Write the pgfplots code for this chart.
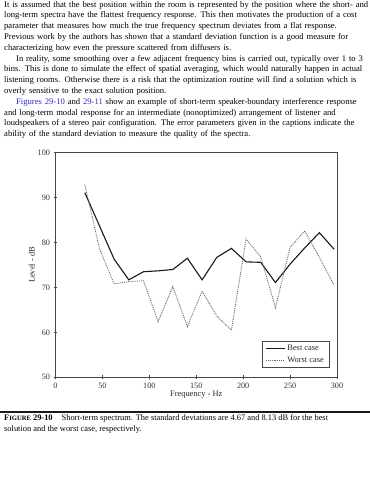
\documentclass[border=0pt]{standalone}
\usepackage{fontspec}
\setmainfont{Liberation Serif}
\usepackage{pgfplots}
\usepackage{pgfplotstable}
\pgfplotsset{compat=1.18}
\definecolor{linkblue}{RGB}{45,45,200}
\definecolor{framegray}{RGB}{70,70,70}

\pgfplotstableread{
f v
31.25 91.1
46.9 83.7
62.5 76.3
78.1 71.7
93.75 73.5
109.4 73.7
125 74.0
140.6 76.5
156.25 71.7
171.9 76.7
187.5 78.7
203.1 75.7
218.75 75.6
234.4 71.1
250 75.2
265.6 78.8
281.25 82.2
296.9 78.5
}\best

\pgfplotstableread{
f v
31.25 92.9
46.9 78.6
62.5 70.8
78.1 71.3
93.75 71.5
109.4 62.4
125 70.2
140.6 61.3
156.25 69.2
171.9 63.6
187.5 60.5
203.1 80.8
218.75 76.8
234.4 65.5
250 78.9
265.6 82.6
281.25 76.7
296.9 70.5
}\worst

\begin{document}
\begin{tikzpicture}
\useasboundingbox (0pt,0pt) rectangle (370pt,-480pt);
\fill[white] (0pt,0pt) rectangle (370pt,-480pt);

\node[anchor=north west, inner sep=0pt, text width=364pt, align=left,
      font=\fontsize{8.6}{10.8}\selectfont] at (4pt,-1pt) {%
It is assumed that the best position within the room is represented by the position where the short- and\\
long-term spectra have the flattest frequency response. This then motivates the production of a cost\\
parameter that measures how much the true frequency spectrum deviates from a flat response.\\
Previous work by the authors has shown that a standard deviation function is a good measure for\\
characterizing how even the pressure scattered from diffusers is.\\
\hspace*{12pt}In reality, some smoothing over a few adjacent frequency bins is carried out, typically over 1 to 3\\
bins. This is done to simulate the effect of spatial averaging, which would naturally happen in actual\\
listening rooms. Otherwise there is a risk that the optimization routine will find a solution which is\\
overly sensitive to the exact solution position.\\
\hspace*{12pt}{\color{linkblue}Figures 29-10} and {\color{linkblue}29-11} show an example of short-term speaker-boundary interference response\\
and long-term modal response for an intermediate (nonoptimized) arrangement of listener and\\
loudspeakers of a stereo pair configuration. The error parameters given in the captions indicate the\\
ability of the standard deviation to measure the quality of the spectra.};

\begin{axis}[
  at={(55.5pt,-377.3pt)}, anchor=south west,
  scale only axis, width=281.5pt, height=224.6pt,
  xmin=0, xmax=300, ymin=50, ymax=100,
  xtick={0,50,...,300}, ytick={50,60,...,100},
  tick align=center, major tick length=4pt,
  xtick pos=bottom, ytick pos=left,
  axis line style={draw=framegray, line width=0.8pt},
  tick style={draw=framegray, line width=0.6pt},
  /pgf/number format/assume math mode=true,
  ticklabel style={font=\fontsize{8.2}{10}\selectfont, text=black!80},
  xlabel={Frequency - Hz}, ylabel={Level - dB},
  label style={font=\fontsize{8.4}{10}\selectfont, text=black!85},
  xlabel style={yshift=4pt},
  ylabel style={yshift=-4pt},
  legend style={at={(0.972,0.041)}, anchor=south east, draw=framegray,
    line width=0.6pt, font=\fontsize{8.4}{10}\selectfont, inner xsep=3pt, inner ysep=2pt,
    row sep=0.5pt, text=black!85},
  legend cell align=left,
  legend image code/.code={\draw[#1] (0pt,0pt) -- (19pt,0pt);},
  legend image post style={line width=0.9pt},
]
\addplot[black!90, line width=1.1pt] table[x=f,y=v] {\best};
\addlegendentry{Best case}
\addplot[black!60, line width=0.9pt, densely dotted] table[x=f,y=v] {\worst};
\addlegendentry{Worst case}
\end{axis}

\draw[line width=1.6pt, black!90] (0pt,-412pt) -- (370pt,-412pt);
\node[anchor=north west, inner sep=0pt, align=left,
      font=\fontsize{8.4}{10.8}\selectfont] at (4pt,-414.5pt) {%
\textbf{F{\fontsize{6.6}{8}\selectfont IGURE} 29-10}\hspace{9pt}Short-term spectrum. The standard deviations are 4.67 and 8.13 dB for the best\\
solution and the worst case, respectively.};
\end{tikzpicture}
\end{document}
